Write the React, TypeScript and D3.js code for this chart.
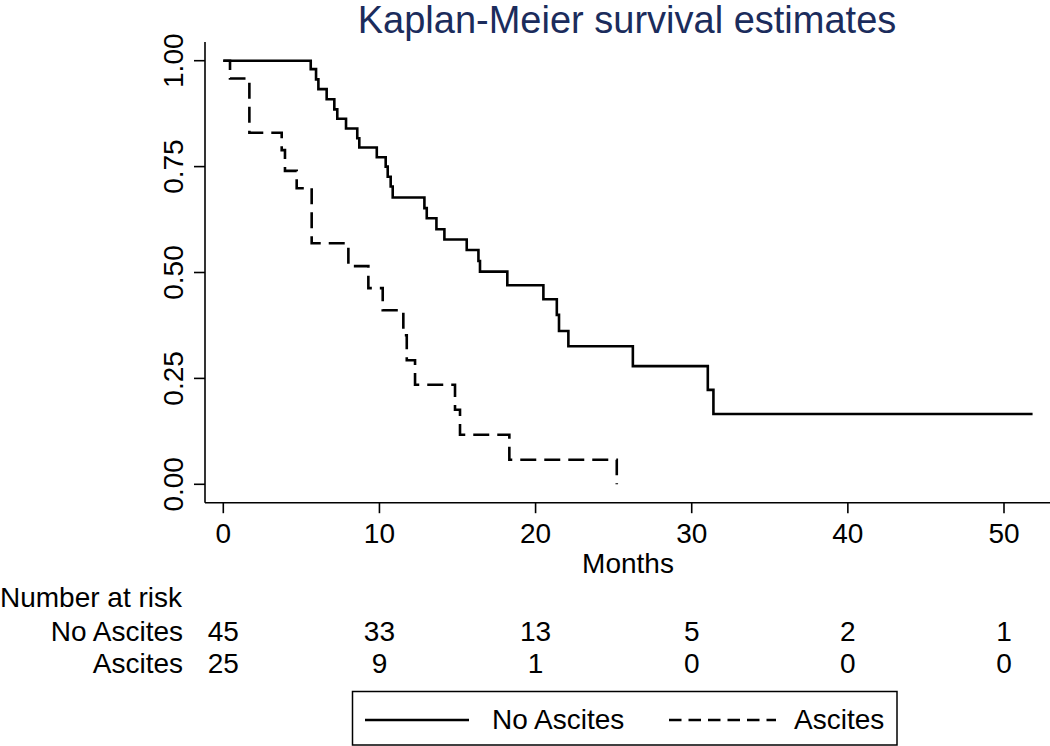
import React from "react";
import * as d3 from "d3";

const noAscitesTimes = [0, 5.60, 5.94, 6.09, 6.62, 7.11, 7.30, 7.86, 8.58, 8.71, 9.83, 10.40, 10.53, 10.72, 10.85, 12.88, 13.03, 13.65, 14.16, 15.59, 16.34, 16.44, 18.19, 20.50, 21.36, 21.50, 22.10, 26.23, 31.03, 31.39, 51.83];
const noAscitesSurv = [1, 0.980, 0.956, 0.933, 0.909, 0.885, 0.863, 0.840, 0.817, 0.795, 0.772, 0.750, 0.726, 0.703, 0.677, 0.652, 0.628, 0.602, 0.578, 0.553, 0.527, 0.502, 0.470, 0.437, 0.400, 0.362, 0.326, 0.279, 0.223, 0.166, 0.166];

const ascitesTimes = [0, 0.43, 1.67, 3.74, 3.95, 4.70, 5.66, 8.01, 9.29, 10.21, 11.53, 11.75, 12.28, 14.84, 15.16, 18.32, 25.2];
const ascitesSurv = [1, 0.958, 0.830, 0.789, 0.740, 0.699, 0.569, 0.515, 0.463, 0.411, 0.352, 0.293, 0.235, 0.176, 0.117, 0.058, 0];

const xTicks = [0, 10, 20, 30, 40, 50];
const yTicks = [0, 0.25, 0.5, 0.75, 1];
const yTickLabels = ["0.00", "0.25", "0.50", "0.75", "1.00"];

const riskTimes = [0, 10, 20, 30, 40, 50];
const riskNoAscites = [45, 33, 13, 5, 2, 1];
const riskAscites = [25, 9, 1, 0, 0, 0];

const groupNames = ["No Ascites", "Ascites"];

const FONT = "'Liberation Sans', Arial, Helvetica, sans-serif";

export default function App() {
  const x = d3.scaleLinear().domain([0, 50]).range([223.3, 1004]);
  const y = d3.scaleLinear().domain([0, 1]).range([484.3, 60.7]);
  const line = d3
    .line<[number, number]>()
    .x((d) => x(d[0]))
    .y((d) => y(d[1]))
    .curve(d3.curveStepAfter);

  const solidPts: [number, number][] = noAscitesTimes.map((t, i) => [t, noAscitesSurv[i]]);
  const dashPts: [number, number][] = ascitesTimes.map((t, i) => [t, ascitesSurv[i]]);

  const axisX = 205;
  const axisY = 502.7;
  const fs = 28;

  return (
    <svg
      width={1050}
      height={746}
      style={{ position: "absolute", left: 0, top: 0, background: "#fff" }}
      fontFamily={FONT}
    >
      <rect x={0} y={0} width={1050} height={746} fill="#fff" />
      {/* Title */}
      <text x={627} y={33} textAnchor="middle" fontSize={38} fill="#1b2c5c">
        Kaplan-Meier survival estimates
      </text>

      {/* Y axis */}
      <line x1={axisX} y1={42} x2={axisX} y2={axisY} stroke="#000" strokeWidth={1.6} />
      {yTicks.map((v, i) => (
        <g key={"yt" + i}>
          <line x1={axisX - 11} x2={axisX} y1={y(v)} y2={y(v)} stroke="#000" strokeWidth={1.6} />
          <text
            transform={`translate(183,${y(v)}) rotate(-90)`}
            textAnchor="middle"
            fontSize={fs}
            fill="#000"
          >
            {yTickLabels[i]}
          </text>
        </g>
      ))}

      {/* X axis */}
      <line x1={axisX} y1={axisY} x2={1050} y2={axisY} stroke="#000" strokeWidth={1.6} />
      {xTicks.map((v) => (
        <g key={"xt" + v}>
          <line x1={x(v)} x2={x(v)} y1={axisY} y2={axisY + 10.5} stroke="#000" strokeWidth={1.6} />
          <text x={x(v)} y={542.5} textAnchor="middle" fontSize={fs} fill="#000">
            {v}
          </text>
        </g>
      ))}
      <text x={628} y={573} textAnchor="middle" fontSize={fs} fill="#000">
        Months
      </text>

      {/* Curves */}
      <path d={line(solidPts) || ""} fill="none" stroke="#000" strokeWidth={2.6} />
      <path
        d={line(dashPts) || ""}
        fill="none"
        stroke="#000"
        strokeWidth={2.6}
        strokeDasharray="16 8"
      />

      {/* Number at risk */}
      <text x={0} y={607} fontSize={fs} fill="#000">
        Number at risk
      </text>
      <text x={183} y={641} textAnchor="end" fontSize={fs} fill="#000">
        {groupNames[0]}
      </text>
      <text x={183} y={673} textAnchor="end" fontSize={fs} fill="#000">
        {groupNames[1]}
      </text>
      {riskTimes.map((t, i) => (
        <g key={"r" + i}>
          <text x={x(t)} y={641} textAnchor="middle" fontSize={fs} fill="#000">
            {riskNoAscites[i]}
          </text>
          <text x={x(t)} y={673} textAnchor="middle" fontSize={fs} fill="#000">
            {riskAscites[i]}
          </text>
        </g>
      ))}

      {/* Legend */}
      <rect x={352.5} y={691.5} width={544.5} height={53.5} fill="#fff" stroke="#000" strokeWidth={1.5} />
      <line x1={365} x2={469} y1={720} y2={720} stroke="#000" strokeWidth={2.6} />
      <text x={492} y={729} fontSize={fs} fill="#000">
        {groupNames[0]}
      </text>
      <line x1={669} x2={776} y1={720} y2={720} stroke="#000" strokeWidth={2.6} strokeDasharray="12.5 7" />
      <text x={794} y={729} fontSize={fs} fill="#000">
        {groupNames[1]}
      </text>
    </svg>
  );
}
